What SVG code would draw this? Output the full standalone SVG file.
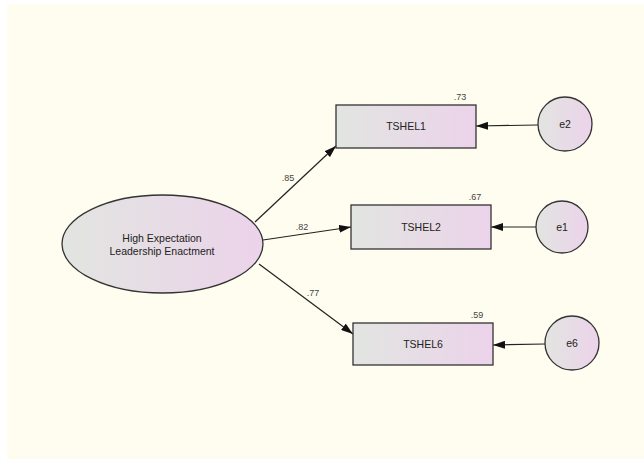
<svg xmlns="http://www.w3.org/2000/svg" width="644" height="459" viewBox="0 0 644 459">
  <defs>
    <linearGradient id="fillGrad" x1="0" y1="0" x2="1" y2="0">
      <stop offset="0" stop-color="#E2E5E1"/>
      <stop offset="1" stop-color="#ECD3EA"/>
    </linearGradient>
    <marker id="arrow" viewBox="0 0 12 8" refX="12" refY="4" markerWidth="12" markerHeight="8" markerUnits="userSpaceOnUse" orient="auto">
      <path d="M0,0 L12,4 L0,8 Z" fill="#111"/>
    </marker>
    <style>
      .shape { fill: url(#fillGrad); stroke: #333; stroke-width: 1.3; }
      .lbl { font-family: "Liberation Sans", Arial, sans-serif; font-size: 10.5px; fill: #222; text-anchor: middle; }
      .coef { font-family: "Liberation Sans", Arial, sans-serif; font-size: 9px; fill: #444; text-anchor: middle; }
      .edge { stroke: #222; stroke-width: 1.2; fill: none; marker-end: url(#arrow); }
    </style>
  </defs>

  <rect x="0" y="0" width="644" height="459" fill="#FFFFFF"/>
  <rect x="7" y="4" width="637" height="455" fill="#FFFDF0"/>

  <!-- connectors -->
  <g id="connectors">
    <line class="edge" x1="255" y1="222" x2="336" y2="146"/>
    <line class="edge" x1="263" y1="240" x2="351" y2="227"/>
    <line class="edge" x1="259" y1="264" x2="353" y2="334"/>
    <line class="edge" x1="538" y1="125" x2="476" y2="126"/>
    <line class="edge" x1="536" y1="227" x2="491" y2="227"/>
    <line class="edge" x1="545" y1="344" x2="493" y2="345"/>
    <text class="coef" x="288" y="181">.85</text>
    <text class="coef" x="302" y="230">.82</text>
    <text class="coef" x="313" y="296">.77</text>
  </g>

  <!-- latent factor -->
  <g id="HEL">
    <ellipse class="shape" cx="162.5" cy="244" rx="100.5" ry="49"/>
    <text class="lbl" x="162" y="242">High Expectation</text>
    <text class="lbl" x="162" y="255">Leadership Enactment</text>
  </g>

  <!-- observed indicators -->
  <g id="TSHEL1">
    <rect class="shape" x="336" y="105" width="140" height="43"/>
    <text class="lbl" x="406" y="130">TSHEL1</text>
    <text class="coef" x="460" y="100">.73</text>
  </g>
  <g id="TSHEL2">
    <rect class="shape" x="351" y="205" width="140" height="44"/>
    <text class="lbl" x="421" y="231">TSHEL2</text>
    <text class="coef" x="475" y="200">.67</text>
  </g>
  <g id="TSHEL6">
    <rect class="shape" x="353" y="323" width="140" height="42"/>
    <text class="lbl" x="423" y="348">TSHEL6</text>
    <text class="coef" x="477" y="318">.59</text>
  </g>

  <!-- error terms -->
  <g id="e2">
    <circle class="shape" cx="565" cy="124" r="27"/>
    <text class="lbl" x="565" y="128">e2</text>
  </g>
  <g id="e1">
    <circle class="shape" cx="562" cy="227" r="26"/>
    <text class="lbl" x="562" y="231">e1</text>
  </g>
  <g id="e6">
    <circle class="shape" cx="572" cy="343" r="27"/>
    <text class="lbl" x="572" y="347">e6</text>
  </g>
</svg>
